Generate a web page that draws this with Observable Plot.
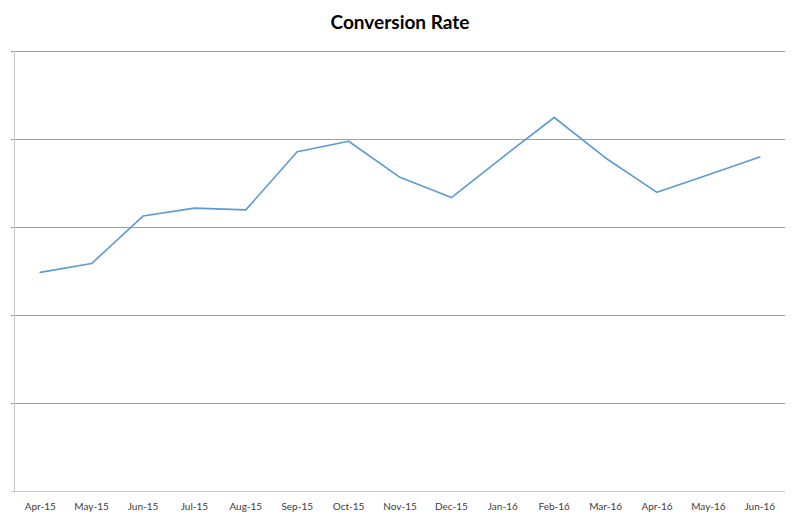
<!DOCTYPE html>
<html>
<head>
<meta charset="utf-8">
<script src="https://cdn.jsdelivr.net/npm/d3@7"></script>
<script src="https://cdn.jsdelivr.net/npm/@observablehq/plot@0.6"></script>
<style>
  html, body { margin: 0; padding: 0; background: #fff; }
  #title { height: 40px; line-height: 44px; text-align: center; font-family: Lato, "Open Sans", sans-serif; font-weight: bold; font-size: 19px; color: #000; }
</style>
</head>
<body>
<div id="title">Conversion Rate</div>
<div id="chart"></div>
<script>
const months = ["Apr-15","May-15","Jun-15","Jul-15","Aug-15","Sep-15","Oct-15","Nov-15","Dec-15","Jan-16","Feb-16","Mar-16","Apr-16","May-16","Jun-16"];
const rates = [2.49, 2.59, 3.13, 3.22, 3.20, 3.86, 3.98, 3.57, 3.34, 3.80, 4.25, 3.79, 3.40, 3.60, 3.80];
const gridValues = [1, 2, 3, 4, 5];

const data = months.map((m, i) => ({month: m, rate: rates[i]}));

const chart = Plot.plot({
  width: 800,
  height: 480,
  marginTop: 11,
  marginBottom: 29,
  marginLeft: 14,
  marginRight: 15,
  style: {fontFamily: "Lato, 'Open Sans', sans-serif", fontSize: "10px", color: "#404040", background: "#fff"},
  x: {domain: months, type: "point", padding: 0.5, round: false, label: null, tickSize: 0, tickPadding: 11},
  y: {domain: [0, 5], axis: null},
  marks: [
    Plot.ruleY(gridValues, {stroke: "#a0a0a0", strokeWidth: 1, insetLeft: -3}),
    Plot.ruleY([0], {stroke: "#c8c8c8", strokeWidth: 1, insetLeft: -3}),
    (index, scales, values, dimensions) => {
      const g = d3.create("svg:g");
      const x0 = dimensions.marginLeft + 0.5;
      g.append("line")
        .attr("x1", x0).attr("x2", x0)
        .attr("y1", dimensions.marginTop)
        .attr("y2", dimensions.height - dimensions.marginBottom)
        .attr("stroke", "#c8c8c8").attr("stroke-width", 1);
      return g.node();
    },
    Plot.line(data, {x: "month", y: "rate", stroke: "#5b9bd5", strokeWidth: 1.6})
  ]
});
document.getElementById("chart").appendChild(chart);
</script>
</body>
</html>
